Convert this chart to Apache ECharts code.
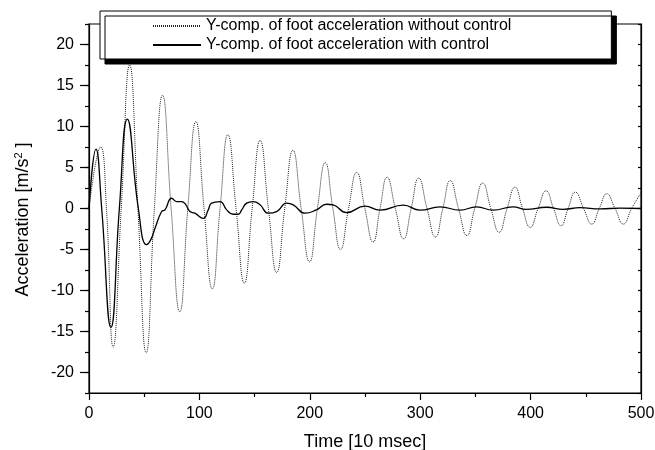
<!DOCTYPE html>
<html>
<head>
<meta charset="utf-8">
<script src="https://cdn.jsdelivr.net/npm/echarts@6/dist/echarts.min.js"></script>
<style>
  html, body { margin: 0; padding: 0; background: #fff; }
  #chart { width: 655px; height: 450px; }
</style>
</head>
<body>
<div id="chart"></div>
<script>
// foot acceleration, Y component; time in units of 10 msec
const tNoCtrl = [0, 10.5, 15.8, 21.9, 29.2, 36.8, 44.3, 51.8, 59.2, 66.6, 74.4, 82.2, 89.5, 96.8,
  104.2, 111.7, 118.7, 125.8, 133.2, 140.7, 147.8, 155, 162.5, 170, 177.3, 184.7, 192.2, 199.8,
  206.9, 214, 220.9, 227.8, 235.1, 242.5, 249.9, 257.3, 263.6, 270, 277.5, 285, 291.8, 298.6,
  306.2, 313.8, 320.5, 327.2, 334.7, 342.3, 349.4, 356.6, 364, 371.5, 378.7, 385.9, 392.7, 399.6,
  406.8, 414, 420.8, 427.6, 434, 440.5, 448, 455.4, 462.2, 469, 476.5, 484, 491.5, 500]
const vNoCtrl = [0, 7.5, 0, -16.9, 0, 17.5, 0, -17.6, 0, 13.8, 0, -12.6, 0, 10.6,
  0, -9.8, 0, 9.0, 0, -9.1, 0, 8.3, 0, -7.8, 0, 7.1, 0, -6.5,
  0, 5.6, 0, -5.0, 0, 4.4, 0, -4.1, 0, 3.8, 0, -3.7, 0, 3.7,
  0, -3.5, 0, 3.4, 0, -3.3, 0, 3.1, 0, -2.9, 0, 2.6, 0, -2.3,
  0, 2.15, 0, -2.1, 0, 2.0, 0, -1.9, 0, 1.8, 0, -1.9, 0, 1.9]

const tCtrl = [0, 6.3, 11.5, 19.9, 27.5, 34.7, 44.7, 52.2, 56, 59.8, 65.8, 68.8, 74.9, 79.4,
  83.9, 87.5, 91.4, 95.9, 103.5, 108, 111, 118.7, 124.7, 130.7, 135.2, 138.3, 142.8, 148.8,
  154.9, 162.4, 170, 179, 185, 195.7, 206, 215.2, 221, 233.4, 250, 263.6, 284.7, 299.8,
  317.9, 336, 351, 366, 384, 396, 414.6, 429.6, 444.7, 463, 481, 500]
const vCtrl = [0, 7.25, 0, -14.5, 0, 10.9, 0, -4.4, -3.8, -2.4, -0.37, -0.17, 1.25, 0.85,
  0.85, 0.5, -0.37, -0.57, -1.2, -0.17, 0.65, 0.85, -0.17, -0.7, -0.7, -0.17, 0.65, 0.85,
  0.45, -0.57, -0.37, 0.65, 0.45, -0.57, -0.17, 0.52, 0.45, -0.5, 0.3, -0.2, 0.4, -0.2,
  0.2, -0.2, 0.2, -0.2, 0.2, -0.1, 0.15, -0.1, 0.1, -0.05, 0.05, 0]

const yMajor = [-20, -15, -10, -5, 0, 5, 10, 15, 20]
const seriesNames = ['Y-comp. of foot acceleration without control', 'Y-comp. of foot acceleration with control']

const font = 'Arial, "Liberation Sans", sans-serif'
const pairs = (ts, vs) => ts.map((t, i) => [t, vs[i]])

const chart = echarts.init(document.getElementById('chart'))

const yBase = {
  type: 'value',
  min: -22.5,
  max: 22.5,
  interval: 2.5,
  splitLine: { show: false }
}

chart.setOption({
  animation: false,
  grid: {
    left: 89, right: 14, top: 24, bottom: 57,
    outerBoundsMode: 'none',
    show: true, borderColor: '#000', borderWidth: 1.2
  },
  legend: {
    orient: 'vertical',
    left: 100,
    top: 11,
    padding: [7, 100, 6, 52],
    itemGap: 3,
    itemWidth: 48,
    itemHeight: 12,
    backgroundColor: '#fff',
    borderColor: '#000',
    borderWidth: 1,
    shadowColor: '#000',
    shadowBlur: 0,
    shadowOffsetX: 5,
    shadowOffsetY: 5,
    itemStyle: { opacity: 0 },
    textStyle: { fontFamily: font, fontSize: 16, color: '#000', lineHeight: 16 },
    data: seriesNames
  },
  xAxis: {
    type: 'value',
    min: 0,
    max: 500,
    interval: 100,
    name: 'Time [10 msec]',
    nameLocation: 'middle',
    nameGap: 40,
    nameTextStyle: { fontFamily: font, fontSize: 18, color: '#000' },
    axisLine: { onZero: false, lineStyle: { color: '#000', width: 1.2 } },
    axisTick: { inside: false, length: 7, lineStyle: { color: '#000', width: 1.2 } },
    minorTick: { show: true, splitNumber: 2, length: 4, lineStyle: { color: '#000', width: 1.2 } },
    axisLabel: { fontFamily: font, fontSize: 16, color: '#000', margin: 13 },
    splitLine: { show: false }
  },
  yAxis: [
    {
      ...yBase,
      position: 'left',
      name: 'Acceleration [m/s{sup|2} ]',
      nameLocation: 'middle',
      nameGap: 55,
      nameTextStyle: {
        fontFamily: font, fontSize: 18, color: '#000',
        padding: [0, 22, 0, 0],
        rich: { sup: { fontFamily: font, fontSize: 11, color: '#000', verticalAlign: 'top', padding: [0, 0, 10, 0] } }
      },
      axisLine: { show: true, lineStyle: { color: '#000', width: 1.2 } },
      axisTick: { inside: false, length: 4, lineStyle: { color: '#000', width: 1.2 } },
      axisLabel: {
        fontFamily: font, fontSize: 16, color: '#000', margin: 15,
        formatter: v => (Math.abs(v) % 5 === 0 && Math.abs(v) < 22.5 ? String(v) : '')
      }
    },
    {
      ...yBase,
      position: 'left',
      axisLine: { show: false },
      axisTick: { inside: false, length: 9, customValues: yMajor, lineStyle: { color: '#000', width: 1.2 } },
      axisLabel: { show: false }
    },
    {
      ...yBase,
      position: 'right',
      axisLine: { show: true, lineStyle: { color: '#000', width: 1.2 } },
      axisTick: { inside: true, length: 3, lineStyle: { color: '#000', width: 1.2 } },
      axisLabel: { show: false }
    }
  ],
  series: [
    {
      name: seriesNames[0],
      type: 'line',
      data: pairs(tNoCtrl, vNoCtrl),
      smooth: 0.5,
      symbol: 'none',
      lineStyle: { color: '#222', width: 1, type: [1, 1] },
      itemStyle: { color: '#222' }
    },
    {
      name: seriesNames[1],
      type: 'line',
      data: pairs(tCtrl, vCtrl),
      smooth: 0.5,
      symbol: 'none',
      lineStyle: { color: '#000', width: 1.3 },
      itemStyle: { color: '#000' }
    }
  ]
})

window.addEventListener('resize', () => chart.resize())
</script>
</body>
</html>
